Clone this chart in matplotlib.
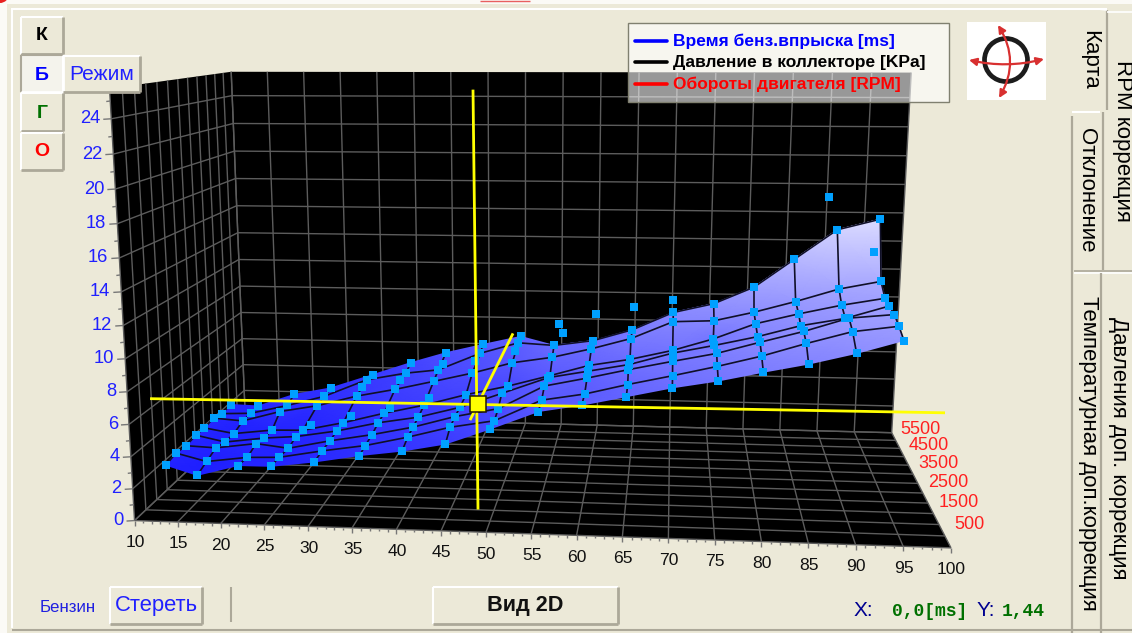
import numpy as np
import matplotlib
matplotlib.use('Agg')
import matplotlib.pyplot as plt
from matplotlib.patches import Rectangle, Circle, FancyArrowPatch
from matplotlib.colors import LinearSegmentedColormap

W, H = 1132, 633
BG = '#ECE9D8'
plt.rcParams['font.family'] = ['Liberation Sans', 'DejaVu Sans']

# ---------- data ----------
load_ticks = list(range(10, 101, 5))
rpm_ticks = [500, 1500, 2500, 3500, 4500, 5500]
time_ticks = list(range(0, 25, 2))

loads = [11.6, 15.3, 20.2, 24.1, 29.3, 34.6, 39.5, 44.5, 49.7, 55.2, 60.0, 65.0, 70.1, 75.1, 80.0, 84.9, 90.0, 95.0]
rpm_table = [
 [900,1390,1890,2420,2870,3400,3880,4410],
 [900,1390,1900,2410,2920,3450,3950,4450],
 [910,1430,1950,2450,2930,3480,3980,4460],
 [920,1400,1990,2500,2970,4010,4570,5080],
 [890,1400,1970,2460,2970,4070,4950,5560],
 [880,1340,1870,2400,2900,3920,5010,5510],
 [930,1440,1930,2440,3010,4050,4590,5510],
 [950,1450,1990,2560,3290,4100,5200,5590],
 [880,1440,1980,2460,3450,4090,5110,5530],
 [850,1430,1920,2680,3020,3490,3840,3840],
 [1000,1770,2400,2770,2960,3640,4160,4160],
 [990,1640,1890,2450,2810,3240,4050,4050],
 [900,1400,1900,2450,2900,3600,4100,4100],
 [780,1390,1830,3070,3680,3590,4030,4030],
 [870,1380,1890,2530,3170,3740,3980,3980],
 [920,1410,1920,2470,2910,3560,4140,4140],
 [920,1500,2020,2490,3050,3520,4150,4150],
 [940,1470,1980,2530,3040,3580,4020,4020],
]
time_table = [
 [2.4,2.6,2.5,2.6,2.6,2.7,2.5,2.6],
 [1.8,2.1,2.4,2.2,2.2,2.5,2.5,2.5],
 [2.5,2.4,2.7,2.5,2.5,3.2,3.1,3.4],
 [2.5,2.5,2.4,2.6,2.5,3.1,3.2,3.3],
 [2.9,3.0,3.0,3.1,3.1,3.8,4.1,3.9],
 [3.4,3.5,3.6,3.8,3.9,4.5,4.6,4.9],
 [3.7,4.0,4.1,4.2,4.4,5.0,5.3,5.7],
 [4.2,4.7,4.8,4.8,4.9,5.6,6.0,6.3],
 [5.3,5.2,5.4,5.9,5.4,6.4,6.9,7.0],
 [6.5,6.6,7.0,6.8,6.6,7.4,7.9,7.9],
 [6.8,6.7,7.1,7.2,7.4,7.9,8.0,8.0],
 [7.4,7.5,8.2,8.0,8.0,9.0,8.9,8.9],
 [8.1,8.35,8.78,8.8,8.57,9.88,10.1,10.1],
 [8.7,9.0,9.4,8.8,8.7,10.0,10.8,10.8],
 [9.2,9.7,10.1,9.9,10.2,10.5,12.0,12.0],
 [9.7,10.5,10.8,10.7,11.1,11.4,13.8,13.8],
 [10.4,11.2,11.6,11.2,11.6,12.3,15.8,15.8],
 [11.2,11.6,11.9,12.0,12.1,12.8,16.6,16.6],
]
extra_load = [24.1, 29.3, 29.3, 34.6, 34.6, 39.5, 39.5, 44.5, 49.7, 55.2, 55.2, 60.0, 65.0, 70.1, 90.0, 95.0]
extra_rpm = [3510, 3550, 4510, 3430, 4410, 3570, 5170, 4470, 4540, 5880, 4880, 5230, 5260, 5000, 5670, 4580]
extra_time = [2.3, 2.9, 4.0, 3.7, 4.7, 4.3, 5.2, 6.1, 6.8, 7.0, 8.5, 9.0, 9.5, 10.3, 17.2, 14.1]

cursor_load, cursor_rpm, cursor_time = 47.7, 1588, 6.1
cross_h_load = [10, 100]; cross_h_rpm = [945, 1068]; cross_h_time = [6.6, 6.8]
cross_v_load = [48, 48]; cross_v_rpm = [915, 1158]; cross_v_time = [25.5, -0.2]
cross_d_load = [48, 48]; cross_d_rpm = [318, 6360]; cross_d_time = [6.45, 6.5]

LOAD0, LOAD1, RPM0, RPM1, T0, T1 = 10, 100, 0, 6000, 0, 25.7

# ---------- projection of the 3D scene into the window ----------
anch_v = [(10,0,0),(50,0,0),(100,0,0),(100,6000,0),(10,6000,0),(10,0,24),(10,6000,24),(100,6000,24),(10,0,12)]
anch_p = [(135,520),(487,535),(950,547),(892,433),(245,415),(112,118),(232,97),(910,97),(122,325)]
def _row(l, r, z):
    return np.array([l/100., r/6000., z/25.7, 1.0])
_A = []
for v, p in zip(anch_v, anch_p):
    X = _row(*v)
    _A.append(np.r_[X, 0*X, -p[0]*X])
    _A.append(np.r_[0*X, X, -p[1]*X])
P = np.linalg.svd(np.array(_A))[2][-1].reshape(3, 4)
def proj(l, r, z):
    l, r, z = np.broadcast_arrays(np.asarray(l, float), np.asarray(r, float), np.asarray(z, float))
    X = np.stack([l/100., r/6000., z/25.7, np.ones_like(l)], -1)
    q = X @ P.T
    return q[..., 0]/q[..., 2], q[..., 1]/q[..., 2]

fig = plt.figure(figsize=(W/100, H/100), dpi=100, facecolor=BG)
ax = fig.add_axes([0, 0, 1, 1])
ax.set_xlim(0, W); ax.set_ylim(H, 0); ax.axis('off')

def seg(xs, ys, c, lw=1.0, z=9, **k):
    ax.plot(xs, ys, color=c, lw=lw, zorder=z, solid_capstyle='butt', **k)

# ---------- window chrome ----------
ax.add_patch(Rectangle((0, 0), W, 4, fc='#FBFAF6', ec='none', zorder=0))
ax.add_patch(Rectangle((0, 0), 7, H, fc='#FBFAF6', ec='none', zorder=0))
seg([11, 1107], [9, 9], 'white', 1.5, 0.5)
seg([12, 12], [9, 628], 'white', 1.5, 0.5)
seg([12, 1072], [630, 630], '#ACA899', 1.5, 0.5)
ax.add_patch(Circle((0, -6), 9, fc='#E82020', ec='none', zorder=1))
seg([480, 530], [0.5, 0.5], '#E86060', 1, 1)
# tabs
seg([1107, 1107], [10, 110], '#ACA899', 1.6)
seg([1098, 1107], [9, 10], 'white', 1.2)
seg([1107, 1132], [12, 12], 'white', 1.2)
seg([1072, 1072], [116, 633], '#ACA899', 1.6)
seg([1072, 1100], [112, 112], 'white', 1.5)
seg([1103, 1103], [112, 270], '#ACA899', 1.6)
seg([1074, 1132], [271, 271], '#ACA899', 1.2)
seg([1074, 1132], [273, 273], 'white', 1.2)
seg([1101, 1101], [273, 633], '#ACA899', 1.6)
seg([1072, 1132], [630, 630], '#ACA899', 1.5)
tabs = [('Карта', 1090, 60), ('RPM коррекция', 1122, 141), ('Отклонение', 1087, 190),
        ('Температурная доп.коррекция', 1088, 453), ('Давления доп. коррекция', 1118, 448)]
for t, x, y in tabs:
    ax.text(x, y, t, rotation=-90, ha='center', va='center', fontsize=16, color='black', zorder=9)

def button(x0, y0, x1, y1, pressed=False, fc=BG):
    ax.add_patch(Rectangle((x0, y0), x1-x0, y1-y0, fc=fc, ec='none', zorder=10))
    tl, br = ('#ACA899', 'white') if pressed else ('white', '#ACA899')
    seg([x0, x1], [y0, y0], tl, 1.5, 11); seg([x0, x0], [y0, y1], tl, 1.5, 11)
    seg([x0, x1], [y1, y1], br, 2, 11); seg([x1, x1], [y0, y1], br, 2, 11)

# ---------- box of the chart ----------
def plane(pts):
    us, vs = proj(*np.array(pts, float).T)
    ax.fill(us, vs, color='black', lw=0, zorder=1)
plane([(LOAD0,RPM0,T0),(LOAD0,RPM0,T1),(LOAD0,RPM1,T1),(LOAD0,RPM1,T0)])
plane([(LOAD0,RPM1,T0),(LOAD0,RPM1,T1),(LOAD1,RPM1,T1),(LOAD1,RPM1,T0)])
plane([(LOAD0,RPM0,T0),(LOAD1,RPM0,T0),(LOAD1,RPM1,T0),(LOAD0,RPM1,T0)])

GRID = '#5c5c5c'
def grid_line(a, b):
    u, v = proj(*np.array([a, b], float).T)
    seg(u, v, GRID, 1.0, 2)
rpm_grid = range(0, RPM1+1, 500)
for r in rpm_grid:
    grid_line((LOAD0, r, T0), (LOAD0, r, T1))
    grid_line((LOAD0, r, T0), (LOAD1, r, T0))
for l in load_ticks:
    grid_line((l, RPM1, T0), (l, RPM1, T1))
    grid_line((l, RPM0, T0), (l, RPM1, T0))
for t in time_ticks:
    grid_line((LOAD0, RPM0, t), (LOAD0, RPM1, t))
    grid_line((LOAD0, RPM1, t), (LOAD1, RPM1, t))

# ticks and labels
for t in np.arange(0, 25.5, 1):
    u, v = proj(LOAD0, RPM0, t)
    major = t in time_ticks
    seg([u-(8 if major else 4), u], [v+0.5, v], '#777777', 1, 2)
    if major:
        ax.text(u-11, v, str(int(t)), color='#2020FF', fontsize=13.2, ha='right', va='center', zorder=3)
for l in range(LOAD0, LOAD1+1):
    u, v = proj(l, RPM0, T0)
    major = l in load_ticks
    seg([u, u], [v, v+(5 if major else 2.5)], '#777777', 1, 2)
    if major:
        ax.text(u+0.5, v+22, str(l), color='#111111', fontsize=12.6, ha='center', va='center', zorder=3)
for r in rpm_ticks:
    u, v = proj(LOAD1, r, T0)
    ax.text(u+25, v-11, str(r), color='#FF2020', fontsize=13, ha='center', va='center', zorder=3)

# ---------- surface ----------
L = np.tile(np.array(loads)[:, None], (1, 8))
R = np.array(rpm_table, float)
T = np.array(time_table, float)
SU, SV = proj(L, R, T)
cmap = LinearSegmentedColormap.from_list('bl', ['#1E1EFF', '#DCDCFF'])
ax.pcolormesh(SU, SV, T, cmap=cmap, vmin=2, vmax=16.6, shading='gouraud', zorder=3)
for j in range(1, 7):
    seg(SU[:, j], SV[:, j], '#101028', 1.2, 4)
for i in range(SU.shape[0]):
    seg(SU[i], SV[i], '#101028', 1.2, 4)
ax.plot(SU.ravel(), SV.ravel(), 's', color='#00A0FF', ms=6, mew=0, zorder=5)
eu, ev = proj(extra_load, extra_rpm, extra_time)
ax.plot(eu, ev, 's', color='#00A0FF', ms=6, mew=0, zorder=5)

# ---------- cursor ----------
for a, b, c in [(cross_h_load, cross_h_rpm, cross_h_time),
                (cross_v_load, cross_v_rpm, cross_v_time),
                (cross_d_load, cross_d_rpm, cross_d_time)]:
    u, v = proj(a, b, c)
    seg(u, v, '#FFFF00', 2.0, 6)
cu, cv = proj(cursor_load, cursor_rpm, cursor_time)
ax.plot([cu], [cv], 's', color='#FFFF00', ms=11.5, mec='#201800', mew=1.1, zorder=7)

# ---------- legend ----------
ax.add_patch(Rectangle((628, 23), 321, 79, fc='white', alpha=0.6, ec='none', zorder=8))
ax.add_patch(Rectangle((628, 23), 321, 79, fc='none', ec='#808070', lw=1.0, zorder=8))
legend = [('Время бенз.впрыска [ms]', '#0000FF', 41), ('Давление в коллекторе [KPa]', '#000000', 62),
          ('Обороты двигателя [RPM]', '#FF0000', 84)]
for t, c, y in legend:
    ax.plot([635, 667], [y, y], color=c, lw=2.6, zorder=9, solid_capstyle='round')
    ax.text(673, y, t, color=c, fontsize=12.5, fontweight='bold', va='center', ha='left', zorder=9)

# ---------- logo ----------
ax.add_patch(Rectangle((967, 22), 79, 78, fc='white', ec='none', zorder=8))
ax.add_patch(Circle((1006, 60), 21.5, fc='none', ec='#1c1c1c', lw=3.4, zorder=9))
for a, b, rad in [((969, 60), (1044, 59), 0.12), ((998, 25), (999, 98), -0.3)]:
    ax.add_patch(FancyArrowPatch(a, b, connectionstyle='arc3,rad=%g' % rad, arrowstyle='<|-|>',
                                 mutation_scale=11, color='#D83030', lw=1.6, zorder=10, shrinkA=0, shrinkB=0))

# ---------- buttons ----------
button(21, 17, 63, 54); button(21, 55, 63, 92, True, '#F4F3EC'); button(21, 93, 63, 131); button(21, 133, 63, 170)
for t, c, y in [('К', 'black', 36), ('Б', '#0000FF', 76), ('Г', '#007000', 114), ('О', '#FF0000', 152)]:
    ax.text(42, y, t, color=c, fontsize=14, fontweight='bold', ha='center', va='center', zorder=12)
button(63, 56, 140, 92)
ax.text(102, 75, 'Режим', color='#2020FF', fontsize=15, ha='center', va='center', zorder=12)
button(110, 587, 202, 624)
ax.text(156, 606, 'Стереть', color='#2020FF', fontsize=15.8, ha='center', va='center', zorder=12)
ax.text(40, 607, 'Бензин', color='#2020E0', fontsize=12.2, ha='left', va='center', zorder=12)
seg([231, 231], [587, 622], '#ACA899', 1.5)
button(433, 587, 618, 624)
ax.text(525, 606, 'Вид 2D', color='#111111', fontsize=15.6, fontweight='bold', ha='center', va='center', zorder=12)
ax.text(854, 616, 'X:', color='#000090', fontsize=15, ha='left', va='baseline', zorder=12)
ax.text(892, 616, '0,0[ms]', color='#007000', fontsize=13, family='Liberation Mono', fontweight='bold', ha='left', va='baseline', zorder=12)
ax.text(977, 616, 'Y:', color='#000090', fontsize=15, ha='left', va='baseline', zorder=12)
ax.text(1002, 616, '1,44', color='#007000', fontsize=13, family='Liberation Mono', fontweight='bold', ha='left', va='baseline', zorder=12)

fig.savefig('out.png', dpi=100, facecolor=BG)
